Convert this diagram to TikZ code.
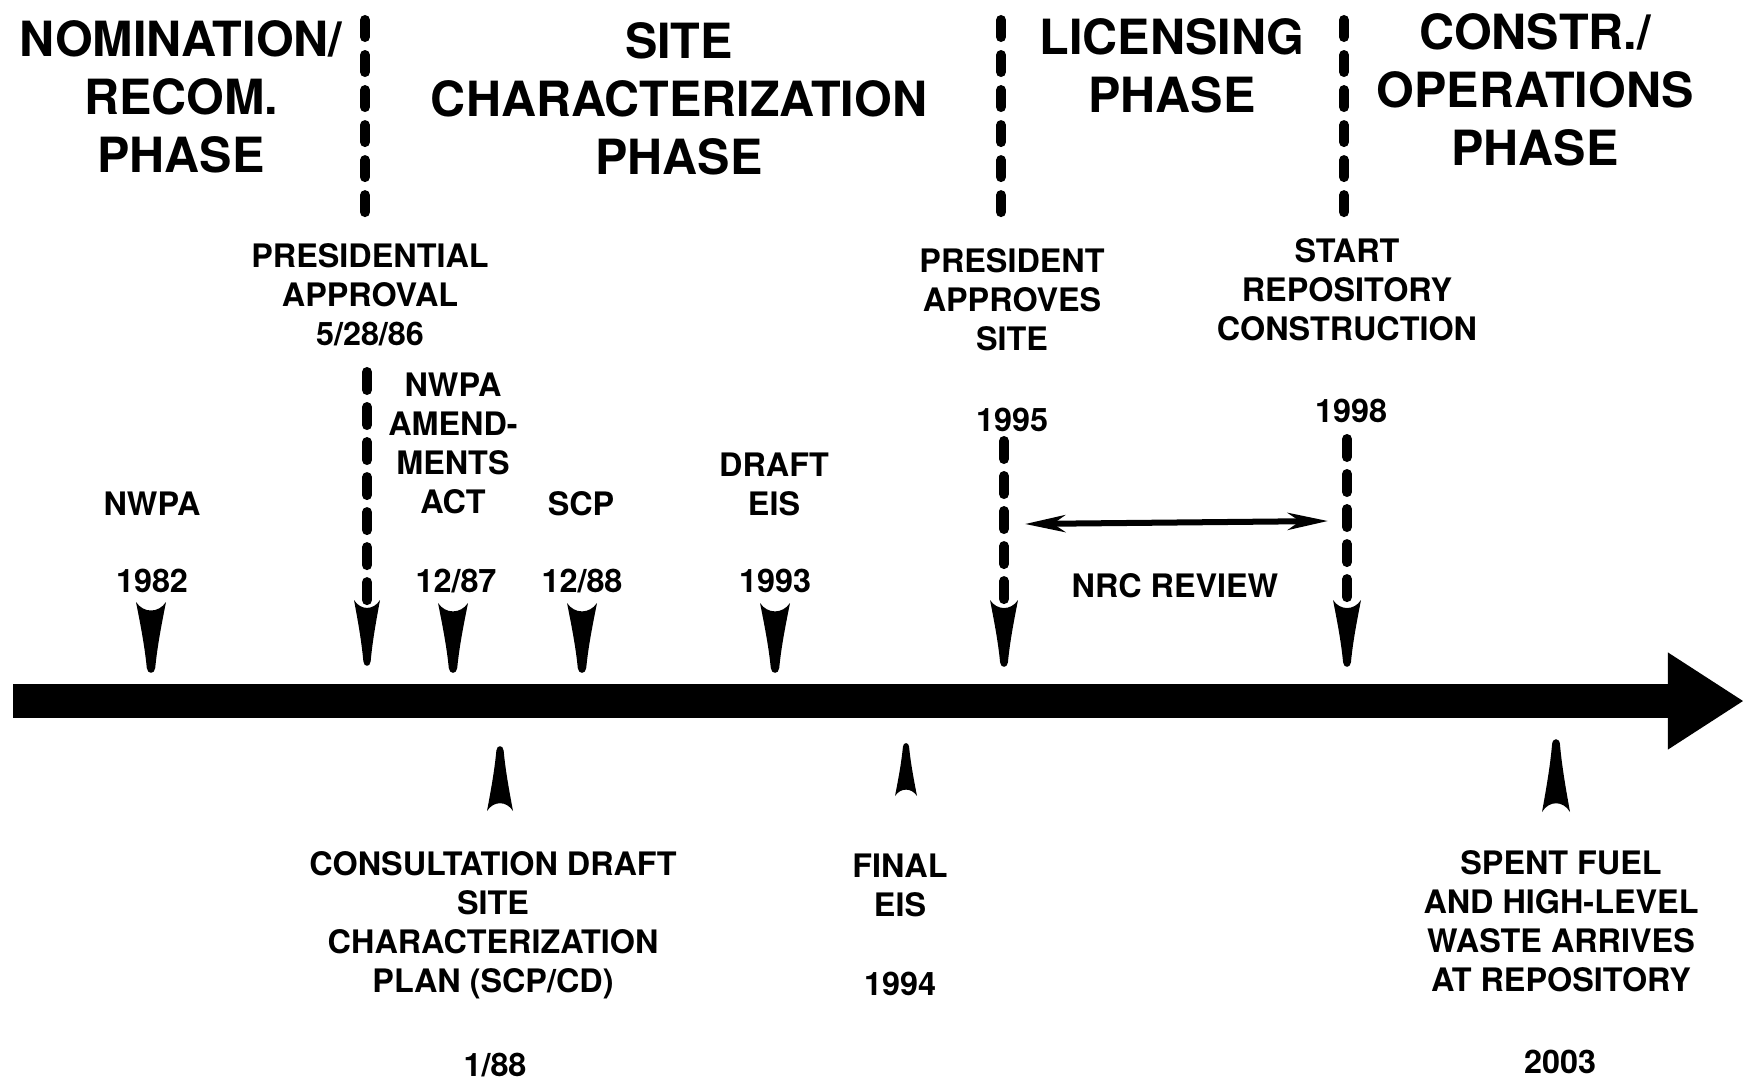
\documentclass[tikz,border=0pt]{standalone}
\usepackage{fontspec}
\setmainfont{TeX Gyre Heros}
\usetikzlibrary{arrows.meta}
\tikzset{
  phase/.style={align=center, inner sep=0pt,
                font=\fontsize{13.8}{16.5}\selectfont\bfseries},
  event/.style={align=center, inner sep=0pt,
                font=\fontsize{9.2}{11.1}\selectfont\bfseries},
  divider/.style={line width=0.1cm, line cap=round,
                  dash pattern=on 0.17cm off 0.18cm},
  eventline/.style={line width=0.1cm, line cap=round,
                    dash pattern=on 0.18cm off 0.17cm},
  timeline/.style={line width=0.33cm,
                   -{Triangle[length=0.75cm, width=0.97cm, line width=0pt]}},
  review/.style={line width=0.06cm,
                 {Stealth[length=0.4cm, width=0.17cm, inset=0.12cm]}-{Stealth[length=0.4cm, width=0.17cm, inset=0.12cm]}},
  pics/marker/.style={code={
    \fill (-1,0) .. controls (-0.5,0.16) and (0.5,0.16) .. (1,0)
      .. controls (0.72,0.3) and (0.42,0.62) .. (0.28,0.93)
      .. controls (0.24,1.02) and (-0.24,1.02) .. (-0.28,0.93)
      .. controls (-0.42,0.62) and (-0.72,0.3) .. (-1,0) -- cycle;
  }},
}

\begin{document}
\begin{tikzpicture}[x=0.01cm, y=-0.01cm]
  \useasboundingbox (0,0) rectangle (1743,1079);

  % phases
  \node[phase] (nom)  at (181,97)  {NOMINATION/\\RECOM.\\PHASE};
  \node[phase] (char) at (679,99)  {SITE\\CHARACTERIZATION\\PHASE};
  \node[phase] (lic)  at (1172,66) {LICENSING\\PHASE};
  \node[phase] (ops)  at (1535,90) {CONSTR./\\OPERATIONS\\PHASE};
  \coordinate (div1a) at (365,20);  \coordinate (div1b) at (365,215);
  \coordinate (div2a) at (1001,20); \coordinate (div2b) at (1001,215);
  \coordinate (div3a) at (1344,20); \coordinate (div3b) at (1344,215);
  \draw[divider] (div1a) -- (div1b);
  \draw[divider] (div2a) -- (div2b);
  \draw[divider] (div3a) -- (div3b);

  % time line
  \coordinate (tl0) at (13,701);
  \coordinate (tl1) at (1743,701);
  \draw[timeline] (tl0) -- (tl1);

  % events above the line
  \node[event] (nwpa)   at (152,504)  {NWPA};
  \node[event] (y82)    at (152,581)  {1982};
  \node[event] (presap) at (370,295)  {PRESIDENTIAL\\APPROVAL\\5/28/86};
  \node[event] (amend)  at (453,443)  {NWPA\\AMEND-\\MENTS\\ACT};
  \node[event] (y87)    at (456,581)  {12/87};
  \node[event] (scp)    at (581,504)  {SCP};
  \node[event] (y88)    at (582,581)  {12/88};
  \node[event] (deis)   at (774,484)  {DRAFT\\EIS};
  \node[event] (y93)    at (775,581)  {1993};
  \node[event] (pres)   at (1012,300) {PRESIDENT\\APPROVES\\SITE};
  \node[event] (y95)    at (1012,420) {1995};
  \node[event] (start)  at (1347,290) {START\\REPOSITORY\\CONSTRUCTION};
  \node[event] (y98)    at (1351,411) {1998};
  \node[event] (nrc)    at (1175,586) {NRC REVIEW};

  \coordinate (mk82) at (151,602);
  \coordinate (mk86) at (367,600);
  \coordinate (mk87) at (453,603);
  \coordinate (mk88) at (582,603);
  \coordinate (mk93) at (775,603);
  \coordinate (mk95) at (1004,600);
  \coordinate (mk98) at (1347,600);
  \pic[xscale=15, yscale=71] at (mk82) {marker};
  \pic[xscale=13, yscale=66] at (mk86) {marker};
  \pic[xscale=15, yscale=70] at (mk87) {marker};
  \pic[xscale=15, yscale=70] at (mk88) {marker};
  \pic[xscale=15, yscale=70] at (mk93) {marker};
  \pic[xscale=14, yscale=67] at (mk95) {marker};
  \pic[xscale=14, yscale=67] at (mk98) {marker};

  \coordinate (ln86) at (367,372);
  \coordinate (ln95) at (1004,441);
  \coordinate (ln98) at (1347,439);
  \draw[eventline] (ln86) -- ([yshift=-0.02cm]mk86);
  \draw[eventline] (ln95) -- ([yshift=-0.02cm]mk95);
  \draw[eventline] (ln98) -- ([yshift=-0.02cm]mk98);

  \coordinate (nrcL) at (1025,524);
  \coordinate (nrcR) at (1328,521);
  \draw[review] (nrcL) -- (nrcR);

  % events below the line
  \coordinate (mkcd) at (500,811);
  \coordinate (mkfe) at (906,796);
  \coordinate (mk03) at (1556,812);
  \pic[xscale=13, yscale=-65] at (mkcd) {marker};
  \pic[xscale=11, yscale=-53] at (mkfe) {marker};
  \pic[xscale=14, yscale=-73] at (mk03) {marker};

  \node[event] (scpcd) at (493,925)  {CONSULTATION DRAFT\\SITE\\CHARACTERIZATION\\PLAN (SCP/CD)};
  \node[event] (y88b)  at (495,1065) {1/88};
  \node[event] (feis)  at (900,885)  {FINAL\\EIS};
  \node[event] (y94)   at (900,984)  {1994};
  \node[event] (spent) at (1561,921) {SPENT FUEL\\AND HIGH-LEVEL\\WASTE ARRIVES\\AT REPOSITORY};
  \node[event] (y03)   at (1560,1062) {2003};
\end{tikzpicture}
\end{document}
